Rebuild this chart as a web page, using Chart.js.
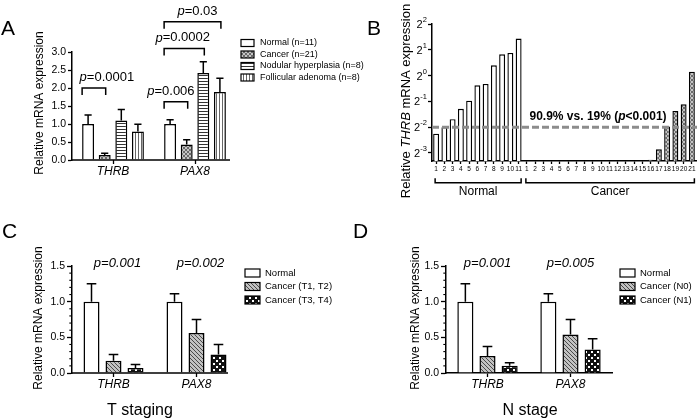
<!DOCTYPE html>
<html><head><meta charset="utf-8"><title>THRB and PAX8 expression</title>
<script src="https://cdn.jsdelivr.net/npm/chart.js@4.4.1/dist/chart.umd.min.js"></script>
<style>
html,body{margin:0;padding:0;background:#fff;overflow:hidden}
#wrap{position:relative;width:700px;height:418px;background:#fff}
#wrap canvas{position:absolute;left:0;top:0}
</style></head><body>
<div id="wrap">
<canvas id="chartA" width="700" height="418"></canvas>
<canvas id="chartB" width="700" height="418"></canvas>
<canvas id="chartC" width="700" height="418"></canvas>
<canvas id="chartD" width="700" height="418"></canvas>
</div>
<script>
// ================= DATA =================
// Panel A
const genesA = ['THRB', 'PAX8'];
const seriesNamesA = ['Normal (n=11)', 'Cancer (n=21)', 'Nodular hyperplasia (n=8)', 'Follicular adenoma (n=8)'];
const normalA = [1.00, 1.00];
const cancerA = [0.14, 0.43];
const nodularA = [1.10, 2.42];
const follicularA = [0.79, 1.89];
const normalSemA = [0.25, 0.12];
const cancerSemA = [0.05, 0.13];
const nodularSemA = [0.30, 0.31];
const follicularSemA = [0.20, 0.38];
const yTicksA = [0, 0.5, 1.0, 1.5, 2.0, 2.5, 3.0];
const pValuesA = ['=0.0001', '=0.006', '=0.0002', '=0.03'];

// Panel B (relative THRB expression per sample, log2 axis)
const samplesNormalB = ['1','2','3','4','5','6','7','8','9','10','11'];
const samplesCancerB = ['1','2','3','4','5','6','7','8','9','10','11','12','13','14','15','16','17','18','19','20','21'];
const normalB = [0.21, 0.25, 0.31, 0.41, 0.51, 0.77, 0.80, 1.32, 1.77, 1.84, 2.71];
const cancerB = [null, null, null, null, null, null, null, null, null, null, null, null, null, null, null, 0.104, 0.138, 0.254, 0.387, 0.463, 1.11];
const cutoffB = 0.25;
const yTicksB = [0.125, 0.25, 0.5, 1, 2, 4];
const groupNamesB = ['Normal', 'Cancer'];
const cutoffTextB = ['90.9% vs. 19% (', 'p', '<0.001)'];

// Panel C
const genesC = ['THRB', 'PAX8'];
const seriesNamesC = ['Normal', 'Cancer (T1, T2)', 'Cancer (T3, T4)'];
const normalC = [1.00, 1.00];
const earlyC = [0.17, 0.56];
const lateC = [0.07, 0.26];
const normalSemC = [0.25, 0.11];
const earlySemC = [0.09, 0.19];
const lateSemC = [0.05, 0.14];
const yTicksC = [0, 0.5, 1.0, 1.5];
const pValuesC = ['p=0.001', 'p=0.002'];
const xTitleC = 'T staging';

// Panel D
const genesD = ['THRB', 'PAX8'];
const seriesNamesD = ['Normal', 'Cancer (N0)', 'Cancer (N1)'];
const normalD = [1.00, 1.00];
const n0D = [0.24, 0.54];
const n1D = [0.10, 0.33];
const normalSemD = [0.25, 0.11];
const n0SemD = [0.13, 0.21];
const n1SemD = [0.045, 0.15];
const yTicksD = [0, 0.5, 1.0, 1.5];
const pValuesD = ['p=0.001', 'p=0.005'];
const xTitleD = 'N stage';

// ================= STYLE HELPERS =================
const FONT = '"Liberation Sans", Arial, Helvetica, sans-serif';
Chart.defaults.font.family = FONT;
Chart.defaults.color = '#000';
const f = (size, style, weight) => [style || '', weight || '', size + 'px', FONT].filter(Boolean).join(' ');

function makePattern(w, h, paint) {
  const c = document.createElement('canvas');
  c.width = w; c.height = h;
  const g = c.getContext('2d');
  paint(g);
  return g.createPattern(c, 'repeat');
}
const patCross = makePattern(4, 4, g => {
  g.fillStyle = '#c4c4c4'; g.fillRect(0, 0, 4, 4);
  g.fillStyle = '#6a6a6a';
  for (let i = 0; i < 4; i++) { g.fillRect(i, i, 1, 1); g.fillRect(i, 3 - i, 1, 1); }
});
const patH = makePattern(4, 3, g => {
  g.fillStyle = '#fff'; g.fillRect(0, 0, 4, 3);
  g.fillStyle = '#333'; g.fillRect(0, 0, 4, 1);
});
const patV = makePattern(3, 4, g => {
  g.fillStyle = '#fff'; g.fillRect(0, 0, 3, 4);
  g.fillStyle = '#666'; g.fillRect(0, 0, 1, 4);
});
const patDiag = makePattern(4, 4, g => {
  g.fillStyle = '#c2c2c2'; g.fillRect(0, 0, 4, 4);
  g.fillStyle = '#4a4a4a';
  for (let i = 0; i < 4; i++) g.fillRect(i, i, 1, 1);
});
const patCheck = makePattern(6, 6, g => {
  g.fillStyle = '#111'; g.fillRect(0, 0, 6, 6);
  g.fillStyle = '#fff'; g.fillRect(0, 0, 2, 2); g.fillRect(3, 3, 2, 2);
});

function rich(ctx, parts, x, y, align) {
  let w = 0;
  parts.forEach(p => { ctx.font = p.font; p.w = ctx.measureText(p.t).width; w += p.w; });
  let cx = align === 'center' ? x - w / 2 : (align === 'right' ? x - w : x);
  ctx.textAlign = 'left'; ctx.textBaseline = 'middle'; ctx.fillStyle = '#000';
  parts.forEach(p => { ctx.font = p.font; ctx.fillText(p.t, cx, y); cx += p.w; });
}
function vtitle(ctx, parts, x, y) {
  ctx.save(); ctx.translate(x, y); ctx.rotate(-Math.PI / 2);
  rich(ctx, parts, 0, 0, 'center'); ctx.restore();
}
function panelLabel(ctx, s, x, y) {
  ctx.save(); ctx.font = f(21); ctx.fillStyle = '#000';
  ctx.textAlign = 'left'; ctx.textBaseline = 'alphabetic'; ctx.fillText(s, x, y); ctx.restore();
}
function poly(ctx, pts, w, color, dash) {
  ctx.save(); ctx.strokeStyle = color || '#000'; ctx.lineWidth = w;
  if (dash) ctx.setLineDash(dash);
  ctx.beginPath();
  pts.forEach((p, i) => i ? ctx.lineTo(p[0], p[1]) : ctx.moveTo(p[0], p[1]));
  ctx.stroke(); ctx.restore();
}
function drawErrors(chart) {
  const ctx = chart.ctx, ys = chart.scales.y;
  ctx.save(); ctx.strokeStyle = '#000'; ctx.lineWidth = 1.5;
  chart.data.datasets.forEach((ds, i) => {
    if (!ds.errors) return;
    chart.getDatasetMeta(i).data.forEach((bar, j) => {
      const v = ds.data[j], e = ds.errors[j];
      if (v == null || e == null) return;
      const top = ys.getPixelForValue(v + e), h = bar.width * 0.3;
      ctx.beginPath();
      ctx.moveTo(bar.x, bar.y); ctx.lineTo(bar.x, top);
      ctx.moveTo(bar.x - h, top); ctx.lineTo(bar.x + h, top);
      ctx.stroke();
    });
  });
  ctx.restore();
}
function drawLegend(chart, o) {
  const ctx = chart.ctx;
  ctx.save();
  chart.data.datasets.forEach((ds, i) => {
    const y = o.y + i * o.dy;
    ctx.fillStyle = ds.backgroundColor;
    ctx.fillRect(o.x, y - o.h / 2, o.w, o.h);
    ctx.strokeStyle = '#000'; ctx.lineWidth = 1.2;
    ctx.strokeRect(o.x, y - o.h / 2, o.w, o.h);
    ctx.fillStyle = '#000'; ctx.font = f(o.size);
    ctx.textAlign = 'left'; ctx.textBaseline = 'middle';
    ctx.fillText(ds.label, o.tx, y);
  });
  ctx.restore();
}
function minorTicks(chart, from, to, step, len) {
  const ys = chart.scales.y, ca = chart.chartArea;
  for (let k = Math.round(from / step); k <= Math.round(to / step); k++) {
    const v = k * step;
    if (Math.abs(v / 0.5 - Math.round(v / 0.5)) < 1e-6) continue;
    const y = ys.getPixelForValue(v);
    poly(chart.ctx, [[ca.left - len, y], [ca.left, y]], 1.1);
  }
}
function groupCenter(chart, g) {
  const n = chart.data.datasets.length;
  const a = chart.getDatasetMeta(0).data[g], b = chart.getDatasetMeta(n - 1).data[g];
  return (a.x + b.x) / 2;
}

const barStyle = {borderColor: '#000', borderWidth: 1.5, borderSkipped: 'start'};

function makeOptions(g, scales, barOpts) {
  return {
    responsive: false, maintainAspectRatio: false, animation: false, events: [],
    layout: {padding: {left: 0, top: g.T, right: 700 - g.R, bottom: 0}},
    plugins: {legend: {display: false}, tooltip: {enabled: false}},
    datasets: {bar: barOpts},
    scales: scales
  };
}
function catAxis(g, font, tickLen, pad, borderOn) {
  return {
    type: 'category', offset: true,
    grid: {display: true, drawOnChartArea: false, offset: false, drawTicks: true, tickLength: tickLen, tickWidth: 1.3, tickColor: '#000'},
    border: {display: borderOn, color: '#000', width: 1.5},
    ticks: {font: font, color: '#000', padding: pad, maxRotation: 0, minRotation: 0, autoSkip: false},
    afterFit: s => { s.height = 418 - g.B; }
  };
}
function linAxis(g, min, max, tickList, tickLen) {
  return {
    type: 'linear', min: min, max: max,
    afterBuildTicks: s => { s.ticks = tickList.map(v => ({value: v})); },
    grid: {display: true, drawOnChartArea: false, drawTicks: true, tickLength: tickLen, tickWidth: 1.3, tickColor: '#000'},
    border: {display: true, color: '#000', width: 1.5},
    ticks: {font: {size: 10.5}, color: '#000', padding: 2, callback: v => Number(v).toFixed(1)},
    afterFit: s => { s.width = g.L; }
  };
}

// ================= PANEL A =================
const geomA = {L: 72, T: 52, R: 236, B: 160};
const bracketsA = [
  {group: 0, from: 0, to: 1, at: 2.0, text: pValuesA[0], dx: 13},
  {group: 1, from: 0, to: 1, at: 1.62, text: pValuesA[1], dx: -5},
  {group: 1, from: 0, to: 2, at: 3.10, text: pValuesA[2], dx: -1.5},
  {group: 1, from: 0, to: 3, at: 3.84, text: pValuesA[3], dx: 5}
];
new Chart(document.getElementById('chartA'), {
  type: 'bar',
  data: {labels: genesA, datasets: [
    Object.assign({label: seriesNamesA[0], data: normalA, errors: normalSemA, backgroundColor: '#fff'}, barStyle),
    Object.assign({label: seriesNamesA[1], data: cancerA, errors: cancerSemA, backgroundColor: patCross}, barStyle),
    Object.assign({label: seriesNamesA[2], data: nodularA, errors: nodularSemA, backgroundColor: patH}, barStyle),
    Object.assign({label: seriesNamesA[3], data: follicularA, errors: follicularSemA, backgroundColor: patV}, barStyle)
  ]},
  options: makeOptions(geomA, {
    x: catAxis(geomA, {size: 12, style: 'italic'}, 4, 0, false),
    y: linAxis(geomA, 0, 3, yTicksA, 4)
  }, {categoryPercentage: 0.81, barPercentage: 0.72}),
  plugins: [{
    id: 'decoA',
    afterDatasetsDraw: c => drawErrors(c),
    afterDraw: chart => {
      const ctx = chart.ctx, ca = chart.chartArea, ys = chart.scales.y;
      poly(ctx, [[ca.left - 0.75, ca.bottom], [230, ca.bottom]], 1.5);
      panelLabel(ctx, 'A', 1, 35);
      vtitle(ctx, [{t: 'Relative mRNA expression', font: f(12)}], 40, 103);
      bracketsA.forEach(b => {
        const m1 = chart.getDatasetMeta(b.from).data[b.group];
        const m2 = chart.getDatasetMeta(b.to).data[b.group];
        const x1 = m1.x - m1.width / 2, x2 = m2.x + 1, y = ys.getPixelForValue(b.at);
        poly(ctx, [[x1, y + 7], [x1, y], [x2, y], [x2, y + 7]], 1.5);
        rich(ctx, [{t: 'p', font: f(13, 'italic')}, {t: b.text, font: f(13)}], (x1 + x2) / 2 + b.dx, y - 10.5, 'center');
      });
      drawLegend(chart, {x: 241, y: 43, dy: 11.5, w: 13, h: 7, size: 9, tx: 260});
    }
  }]
});

// ================= PANEL B =================
const geomB = {L: 432, T: 24, R: 696, B: 161};
const labelsB = samplesNormalB.concat(samplesCancerB);
const nN = samplesNormalB.length;
new Chart(document.getElementById('chartB'), {
  type: 'bar',
  data: {labels: labelsB, datasets: [
    Object.assign({label: groupNamesB[0], data: normalB.concat(samplesCancerB.map(() => null)), backgroundColor: '#fff', grouped: false}, barStyle, {borderWidth: 1.4}),
    Object.assign({label: groupNamesB[1], data: samplesNormalB.map(() => null).concat(cancerB), backgroundColor: patCross, grouped: false}, barStyle, {borderWidth: 1.4})
  ]},
  options: makeOptions(geomB, {
    x: catAxis(geomB, {size: 6.5}, 3, 1, true),
    y: {
      type: 'logarithmic', min: 0.1007, max: 4,
      afterBuildTicks: s => { s.ticks = yTicksB.map(v => ({value: v})); },
      grid: {display: true, drawOnChartArea: false, drawTicks: true, tickLength: 4, tickWidth: 1.3, tickColor: '#000'},
      border: {display: true, color: '#000', width: 1.5},
      ticks: {callback: () => '', padding: 0},
      afterFit: s => { s.width = geomB.L; }
    }
  }, {categoryPercentage: 1.0, barPercentage: 0.72}),
  plugins: [{
    id: 'decoB',
    afterDraw: chart => {
      const ctx = chart.ctx, ca = chart.chartArea, ys = chart.scales.y, xs = chart.scales.x;
      panelLabel(ctx, 'B', 367, 35);
      vtitle(ctx, [{t: 'Relative ', font: f(13)}, {t: 'THRB', font: f(13, 'italic')}, {t: ' mRNA expression', font: f(13)}], 406, 101);
      // power-of-two tick labels
      yTicksB.forEach(v => {
        const y = ys.getPixelForValue(v);
        const e = String(Math.round(Math.log2(v)));
        ctx.save(); ctx.fillStyle = '#000'; ctx.textBaseline = 'middle'; ctx.textAlign = 'right';
        ctx.font = f(7.5); const ew = ctx.measureText(e).width;
        const right = ca.left - 5;
        ctx.fillText(e, right, y - 4);
        ctx.font = f(11); ctx.fillText('2', right - ew - 0.3, y + 1);
        ctx.restore();
      });
      // cutoff line and text
      const cy = ys.getPixelForValue(cutoffB);
      poly(ctx, [[ca.left, cy], [ca.right + 1, cy]], 3, '#8c8c8c', [7, 3]);
      rich(ctx, [{t: cutoffTextB[0], font: f(12, '', 'bold')}, {t: cutoffTextB[1], font: f(12, 'italic', 'bold')}, {t: cutoffTextB[2], font: f(12, '', 'bold')}],
        ca.left + 0.629 * (ca.right - ca.left), cy - 10, 'center');
      // group brackets
      const ranges = [[0, nN - 1], [nN, labelsB.length - 1]];
      ranges.forEach((r, i) => {
        const x1 = xs.getPixelForValue(r[0]) - 1, x2 = xs.getPixelForValue(r[1]) + 2.5;
        const yb = ca.bottom + 21.7;
        poly(ctx, [[x1, yb - 4.5], [x1, yb], [x2, yb], [x2, yb - 4.5]], 1.5);
        rich(ctx, [{t: groupNamesB[i], font: f(12)}], (x1 + x2) / 2, ca.bottom + 31, 'center');
      });
    }
  }]
});

// ================= PANEL C =================
const geomC = {L: 72, T: 266, R: 238, B: 373};
new Chart(document.getElementById('chartC'), {
  type: 'bar',
  data: {labels: genesC, datasets: [
    Object.assign({label: seriesNamesC[0], data: normalC, errors: normalSemC, backgroundColor: '#fff'}, barStyle),
    Object.assign({label: seriesNamesC[1], data: earlyC, errors: earlySemC, backgroundColor: patDiag}, barStyle),
    Object.assign({label: seriesNamesC[2], data: lateC, errors: lateSemC, backgroundColor: patCheck}, barStyle)
  ]},
  options: makeOptions(geomC, {
    x: catAxis(geomC, {size: 12, style: 'italic'}, 4, 0, false),
    y: linAxis(geomC, 0, 1.5, yTicksC, 5)
  }, {categoryPercentage: 0.795, barPercentage: 0.727}),
  plugins: [{
    id: 'decoC',
    afterDatasetsDraw: c => drawErrors(c),
    afterDraw: chart => {
      const ctx = chart.ctx, ca = chart.chartArea;
      poly(ctx, [[ca.left - 0.75, ca.bottom], [228, ca.bottom]], 1.5);
      minorTicks(chart, 0, 1.5, 0.1, 2.7);
      panelLabel(ctx, 'C', 2, 238);
      vtitle(ctx, [{t: 'Relative mRNA expression', font: f(12)}], 39, 318);
      pValuesC.forEach((p, g) => rich(ctx, [{t: p, font: f(13, 'italic')}], groupCenter(chart, g) + 4, ca.top - 3, 'center'));
      rich(ctx, [{t: xTitleC, font: f(16)}], 140, 411, 'center');
      drawLegend(chart, {x: 245, y: 273, dy: 13.5, w: 15, h: 8, size: 9.5, tx: 265});
    }
  }]
});

// ================= PANEL D =================
const geomD = {L: 446, T: 266, R: 612, B: 373};
new Chart(document.getElementById('chartD'), {
  type: 'bar',
  data: {labels: genesD, datasets: [
    Object.assign({label: seriesNamesD[0], data: normalD, errors: normalSemD, backgroundColor: '#fff'}, barStyle),
    Object.assign({label: seriesNamesD[1], data: n0D, errors: n0SemD, backgroundColor: patDiag}, barStyle),
    Object.assign({label: seriesNamesD[2], data: n1D, errors: n1SemD, backgroundColor: patCheck}, barStyle)
  ]},
  options: makeOptions(geomD, {
    x: catAxis(geomD, {size: 12, style: 'italic'}, 4, 0, true),
    y: linAxis(geomD, 0, 1.5, yTicksD, 5)
  }, {categoryPercentage: 0.80, barPercentage: 0.727}),
  plugins: [{
    id: 'decoD',
    afterDatasetsDraw: c => drawErrors(c),
    afterDraw: chart => {
      const ctx = chart.ctx, ca = chart.chartArea;
      minorTicks(chart, 0, 1.5, 0.1, 2.7);
      panelLabel(ctx, 'D', 353, 238);
      vtitle(ctx, [{t: 'Relative mRNA expression', font: f(12)}], 416, 318);
      pValuesD.forEach((p, g) => rich(ctx, [{t: p, font: f(13, 'italic')}], groupCenter(chart, g), ca.top - 3, 'center'));
      rich(ctx, [{t: xTitleD, font: f(16)}], 530, 411, 'center');
      drawLegend(chart, {x: 620, y: 273, dy: 13.5, w: 15, h: 8, size: 9.5, tx: 640});
    }
  }]
});
</script>
</body></html>
